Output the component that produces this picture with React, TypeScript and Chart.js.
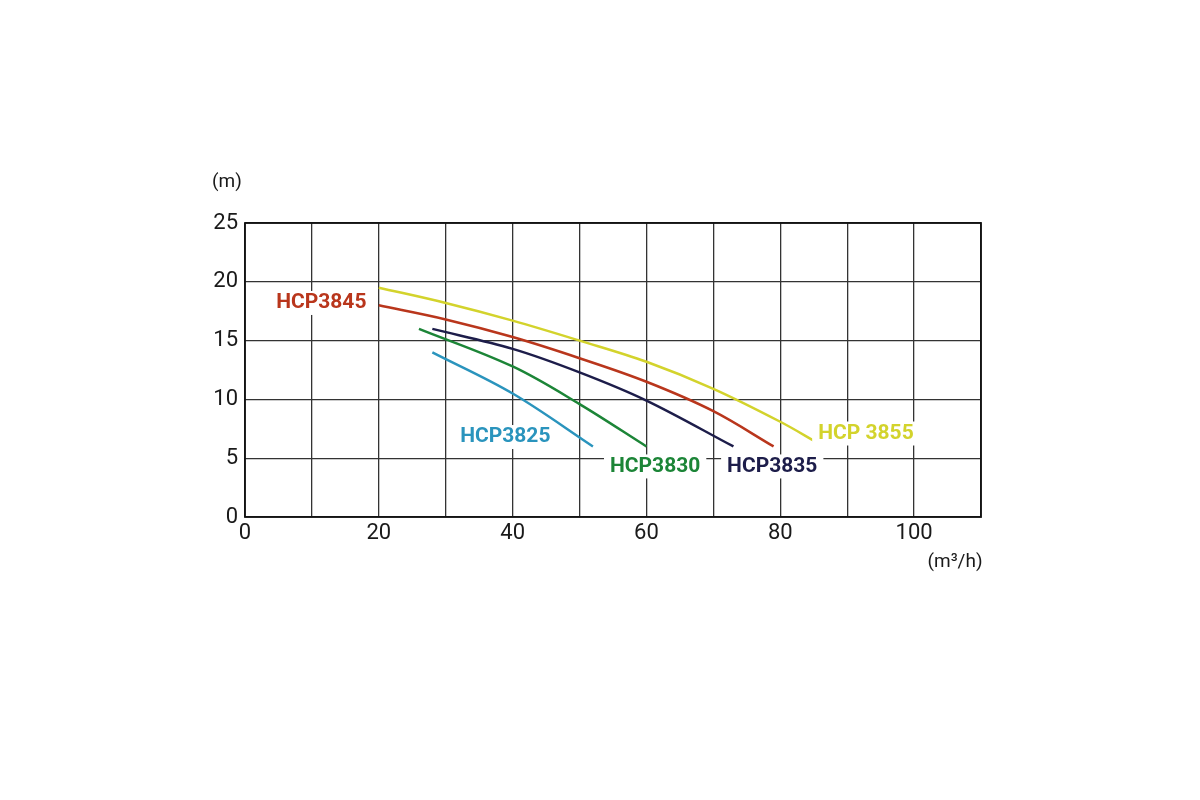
import React, { useRef, useEffect } from 'react';
import { Chart, registerables } from 'chart.js';

Chart.register(...registerables);

// datos (caudal m³/h, altura m)
const hcp3855 = [
  { x: 20, y: 19.5 }, { x: 30, y: 18.2 }, { x: 40, y: 16.7 }, { x: 50, y: 15.0 },
  { x: 60, y: 13.2 }, { x: 70, y: 10.9 }, { x: 80, y: 8.1 }, { x: 85.6, y: 6.3 },
];
const hcp3845 = [
  { x: 20, y: 18.0 }, { x: 30, y: 16.8 }, { x: 40, y: 15.3 }, { x: 50, y: 13.5 },
  { x: 60, y: 11.5 }, { x: 70, y: 9.0 }, { x: 79, y: 6.0 },
];
const hcp3835 = [
  { x: 28, y: 16.0 }, { x: 40, y: 14.3 }, { x: 50, y: 12.3 },
  { x: 60, y: 9.9 }, { x: 73, y: 6.0 },
];
const hcp3830 = [
  { x: 26, y: 16.0 }, { x: 40, y: 12.8 }, { x: 50, y: 9.6 },
  { x: 60, y: 6.0 },
];
const hcp3825 = [
  { x: 28, y: 14.0 }, { x: 40, y: 10.5 }, { x: 52, y: 6.0 },
];

const seriesNames = ['HCP 3855', 'HCP3845', 'HCP3835', 'HCP3830', 'HCP3825'];
const seriesColors = ['#d3d32c', '#b9361c', '#1d1d4a', '#1c8537', '#2a94bd'];
// posición (centro) de cada etiqueta en unidades de datos
const labelPositions = [
  { x: 92.8, y: 7.1 }, { x: 11.4, y: 18.2 }, { x: 78.8, y: 4.3 },
  { x: 61.3, y: 4.3 }, { x: 38.9, y: 6.8 },
];

const App: React.FC = () => {
  const chartRef = useRef<HTMLCanvasElement>(null);

  useEffect(() => {
    if (!chartRef.current) return;
    const ctx = chartRef.current.getContext('2d');
    if (!ctx) return;

    const curves = [hcp3855, hcp3845, hcp3835, hcp3830, hcp3825];

    const chart = new Chart(ctx, {
      type: 'line',
      data: {
        datasets: curves.map((data, i) => ({
          label: seriesNames[i],
          data,
          borderColor: seriesColors[i],
          borderWidth: 2.5,
          pointRadius: 0,
          tension: 0.35,
          fill: false,
        })),
      },
      options: {
        responsive: false,
        animation: false,
        layout: { padding: { left: 195, right: 219, top: 223, bottom: 243 } },
        plugins: { legend: { display: false }, tooltip: { enabled: false } },
        scales: {
          x: {
            type: 'linear',
            min: 0,
            max: 110,
            grid: { color: '#333', lineWidth: 1.3, drawTicks: false },
            border: { display: false },
            ticks: {
              stepSize: 10,
              padding: 3,
              color: '#1a1a1a',
              font: { family: 'Roboto', size: 22 },
              callback: (v: any) => (v % 20 === 0 && v <= 100 ? String(v) : ''),
            },
            afterFit: (axis: any) => { axis.height = 40; },
          },
          y: {
            min: 0,
            max: 25,
            grid: { color: '#333', lineWidth: 1.3, drawTicks: false },
            border: { display: false },
            ticks: {
              stepSize: 5,
              padding: 7,
              color: '#1a1a1a',
              font: { family: 'Roboto', size: 22 },
            },
            afterFit: (axis: any) => { axis.width = 50; },
          },
        },
      },
      plugins: [{
        id: 'etiquetas',
        afterDraw: (c: any) => {
          const g = c.ctx;
          const { left, right, top, bottom } = c.chartArea;
          const xs = c.scales.x;
          const ys = c.scales.y;
          g.save();
          // marco
          g.strokeStyle = '#111';
          g.lineWidth = 1.8;
          g.strokeRect(left, top, right - left, bottom - top);

          g.font = 'bold 21px Roboto, sans-serif';
          g.textAlign = 'center';
          g.textBaseline = 'middle';
          labelPositions.forEach((p, i) => {
            const px = xs.getPixelForValue(p.x);
            const py = ys.getPixelForValue(p.y);
            const w = g.measureText(seriesNames[i]).width;
            g.fillStyle = '#fff';
            g.fillRect(px - w / 2 - 6, py - 12, w + 12, 24);
            g.fillStyle = seriesColors[i];
            g.fillText(seriesNames[i], px, py);
          });

          // unidades
          g.font = '19px Roboto, sans-serif';
          g.fillStyle = '#1a1a1a';
          g.textAlign = 'center';
          g.fillText('(m)', 227, 182);
          g.fillText('(m³/h)', 955, 562);
          g.restore();
        },
      }],
    });

    return () => {
      chart.destroy();
    };
  }, []);

  return (
    <div style={{ position: 'fixed', left: 0, top: 0, width: 1200, height: 800, background: '#fff' }}>
      <canvas ref={chartRef} width={1200} height={800} />
    </div>
  );
};

export default App;
